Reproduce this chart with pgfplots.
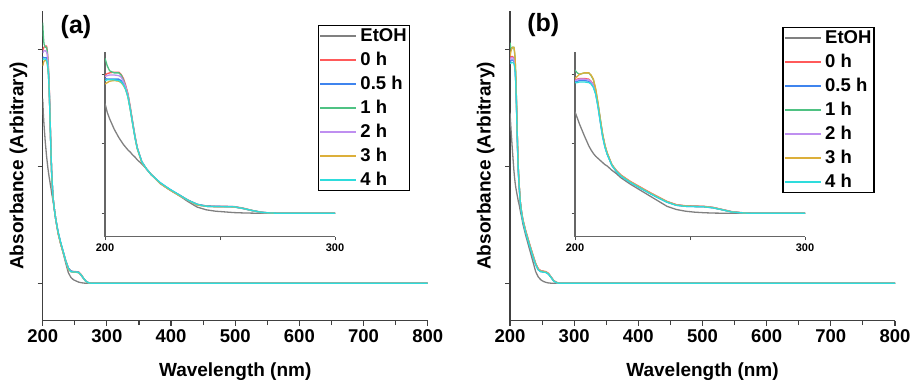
\documentclass[border=0pt]{standalone}
\usepackage{fontspec}
\setmainfont{Liberation Sans}
\usepackage{pgfplots}
\usepackage{pgfplotstable}
\pgfplotsset{compat=1.18}

\definecolor{cE}{HTML}{808080}
\definecolor{c0}{HTML}{FF5A5A}
\definecolor{c05}{HTML}{3F84EE}
\definecolor{c1}{HTML}{4FC283}
\definecolor{c2}{HTML}{BF8FF0}
\definecolor{c3}{HTML}{DCAF3A}
\definecolor{c4}{HTML}{2EDCDC}

\pgfplotstableread{
x    E     h0    h05   h1    h2    h3    h4
200  1.58  1.99  1.94  2.23  1.97  1.86  1.91
201  1.45  2.01  1.93  2.12  1.98  1.88  1.92
202  1.36  2.02  1.93  2.05  1.99  1.90  1.92
204  1.21  2.03  1.93  2.02  1.99  1.91  1.92
206  1.09  2.03  1.93  2.02  1.98  1.90  1.91
207  1.04  2.00  1.91  1.99  1.96  1.88  1.89
208  0.99  1.94  1.86  1.92  1.90  1.84  1.85
209  0.95  1.84  1.79  1.82  1.82  1.78  1.78
210  0.91  1.72  1.68  1.70  1.70  1.67  1.67
211  0.88  1.53  1.50  1.51  1.51  1.49  1.49
212  0.84  1.32  1.30  1.31  1.31  1.29  1.29
213  0.81  1.12  1.10  1.11  1.11  1.10  1.10
214  0.77  0.95  0.94  0.94  0.94  0.93  0.94
216  0.71  0.74  0.74  0.74  0.74  0.73  0.74
218  0.64  0.64  0.64  0.64  0.64  0.64  0.64
220  0.56  0.56  0.56  0.56  0.56  0.56  0.56
224  0.43  0.43  0.44  0.43  0.43  0.43  0.44
228  0.34  0.34  0.35  0.34  0.34  0.34  0.35
232  0.26  0.27  0.27  0.26  0.26  0.26  0.27
236  0.17  0.19  0.19  0.19  0.19  0.19  0.19
240  0.09  0.13  0.13  0.12  0.12  0.12  0.13
244  0.05  0.105 0.105 0.10  0.10  0.10  0.10
248  0.03  0.10  0.10  0.095 0.095 0.095 0.097
252  0.02  0.10  0.098 0.095 0.095 0.094 0.096
256  0.01  0.097 0.095 0.092 0.092 0.092 0.094
260  0.005 0.075 0.07  0.068 0.068 0.07  0.07
264  0.002 0.04  0.04  0.038 0.038 0.04  0.04
268  0     0.015 0.015 0.012 0.012 0.013 0.014
272  0     0.004 0.004 0.003 0.003 0.003 0.004
276  0     0     0     0     0     0     0
280  0     0     0     0     0     0     0
290  0     0     0     0     0     0     0
300  0     0     0     0     0     0     0
800  0     0     0     0     0     0     0
}\tabA

\pgfplotstableread{
x    E     h0    h05   h1    h2    h3    h4
200  1.46  1.92  1.89  2.06  1.91  1.94  1.88
201  1.37  1.93  1.90  2.02  1.92  1.97  1.88
202  1.28  1.94  1.91  2.00  1.93  2.00  1.89
204  1.12  1.94  1.91  2.02  1.93  2.02  1.89
206  0.97  1.93  1.90  2.02  1.92  2.02  1.88
207  0.91  1.90  1.87  1.98  1.89  1.99  1.86
208  0.86  1.85  1.82  1.92  1.84  1.93  1.81
209  0.82  1.74  1.72  1.78  1.73  1.79  1.71
210  0.79  1.56  1.54  1.58  1.55  1.59  1.53
211  0.76  1.34  1.32  1.35  1.33  1.36  1.31
212  0.73  1.13  1.11  1.14  1.12  1.14  1.10
213  0.70  0.97  0.96  0.98  0.97  0.98  0.95
214  0.68  0.86  0.85  0.86  0.86  0.87  0.85
216  0.62  0.70  0.69  0.70  0.70  0.70  0.69
218  0.57  0.615 0.60  0.61  0.61  0.61  0.60
220  0.51  0.55  0.535 0.54  0.545 0.545 0.535
224  0.42  0.46  0.445 0.45  0.455 0.455 0.445
228  0.34  0.385 0.37  0.375 0.38  0.38  0.37
232  0.26  0.31  0.295 0.30  0.305 0.305 0.295
236  0.18  0.24  0.225 0.23  0.235 0.235 0.225
240  0.10  0.17  0.16  0.165 0.168 0.168 0.16
244  0.055 0.125 0.115 0.12  0.12  0.12  0.115
248  0.03  0.108 0.10  0.104 0.105 0.105 0.10
252  0.016 0.105 0.096 0.10  0.10  0.10  0.096
256  0.008 0.10  0.093 0.097 0.098 0.097 0.093
260  0.003 0.085 0.078 0.082 0.083 0.082 0.078
264  0.001 0.055 0.05  0.052 0.053 0.052 0.05
268  0     0.025 0.02  0.022 0.023 0.022 0.02
272  0     0.01  0.007 0.008 0.008 0.008 0.007
276  0     0.002 0     0     0     0     0
280  0     0     0     0     0     0     0
290  0     0     0     0     0     0     0
300  0     0     0     0     0     0     0
800  0     0     0     0     0     0     0
}\tabB

\newcommand{\allplots}[1]{%
  \addplot[cE, line width=1.3pt] table[x=x,y=E]{#1};
  \addplot[c0, line width=1.3pt] table[x=x,y=h0]{#1};
  \addplot[c05, line width=1.3pt] table[x=x,y=h05]{#1};
  \addplot[c1, line width=1.3pt] table[x=x,y=h1]{#1};
  \addplot[c2, line width=1.3pt] table[x=x,y=h2]{#1};
  \addplot[c3, line width=1.3pt] table[x=x,y=h3]{#1};
  \addplot[c4, line width=1.3pt] table[x=x,y=h4]{#1};
}

\pgfplotsset{
  mainax/.style={
    anchor=south west, scale only axis, width=385pt, height=309.7pt,
    xmin=200, xmax=800, ymin=-0.32, ymax=2.33,
    axis x line*=bottom, axis y line*=left,
    axis line style={black!75, line width=1.4pt},
    tick align=outside,
    xtick={200,300,...,800}, minor xtick={250,350,...,750},
    ytick={0,1,2}, yticklabels={},
    major tick length=5pt, minor tick length=4.5pt,
    tick style={black!75, line width=1.1pt},
    /pgf/number format/assume math mode=true,
    xticklabel style={font=\bfseries\fontsize{18.5}{18.5}\selectfont},
    every axis x label/.style={at={(axis description cs:0.5,-0.1656)}, anchor=center},
    every axis y label/.style={at={(axis description cs:-0.063,0.5)}, anchor=center, rotate=90},
    xlabel style={font=\bfseries\fontsize{19}{19}\selectfont},
    ylabel style={font=\bfseries\fontsize{19}{19}\selectfont},
    xlabel={Wavelength (nm)}, ylabel={Absorbance (Arbitrary)},
    legend style={at={(axis description cs:0.714,0.955)}, anchor=north west,
      draw=black, line width=1.2pt, fill=white,
      font=\bfseries\fontsize{18.5}{20}\selectfont,
      nodes={inner sep=1.5pt, text height=13.5pt, text depth=3.5pt},
      row sep=4pt, column sep=2pt, inner xsep=1pt, inner ysep=0.5pt},
    legend cell align=left,
    legend image code/.code={\draw[##1, line width=1.8pt] (0pt,0pt) -- (36pt,0pt);},
  },
  insetax/.style={
    anchor=south west, scale only axis, width=230pt, height=185pt,
    xmin=200, xmax=300, ymin=-0.337, ymax=2.325,
    axis x line*=bottom, axis y line*=left,
    axis line style={black!60, line width=1.1pt},
    tick align=outside,
    xtick={200,300}, minor xtick={250},
    ytick={0,1,2}, yticklabels={},
    major tick length=3.5pt, minor tick length=3.5pt,
    tick style={black!70, line width=0.9pt},
    /pgf/number format/assume math mode=true,
    xticklabel style={font=\bfseries\fontsize{11}{11}\selectfont},
  },
}

\begin{document}
\begin{tikzpicture}
\useasboundingbox (0pt,0pt) rectangle (913pt,385pt);

% ---------- panel (a) ----------
\begin{axis}[insetax, at={(105pt,148.3pt)}]
\allplots{\tabA}
\end{axis}
\begin{axis}[mainax, at={(42.7pt,64.3pt)}]
\allplots{\tabA}
\legend{EtOH,0 h,0.5 h,1 h,2 h,3 h,4 h}
\end{axis}
\node[font=\bfseries\fontsize{25}{25}\selectfont] at (76pt,358pt) {(a)};

% ---------- panel (b) ----------
\begin{axis}[insetax, at={(575pt,148.3pt)}]
\allplots{\tabB}
\end{axis}
\begin{axis}[mainax, at={(510pt,64.3pt)}, legend style={at={(axis description cs:0.70727,0.94855)}}]
\allplots{\tabB}
\legend{EtOH,0 h,0.5 h,1 h,2 h,3 h,4 h}
\end{axis}
\node[font=\bfseries\fontsize{25}{25}\selectfont] at (543.3pt,360pt) {(b)};
\end{tikzpicture}
\end{document}
